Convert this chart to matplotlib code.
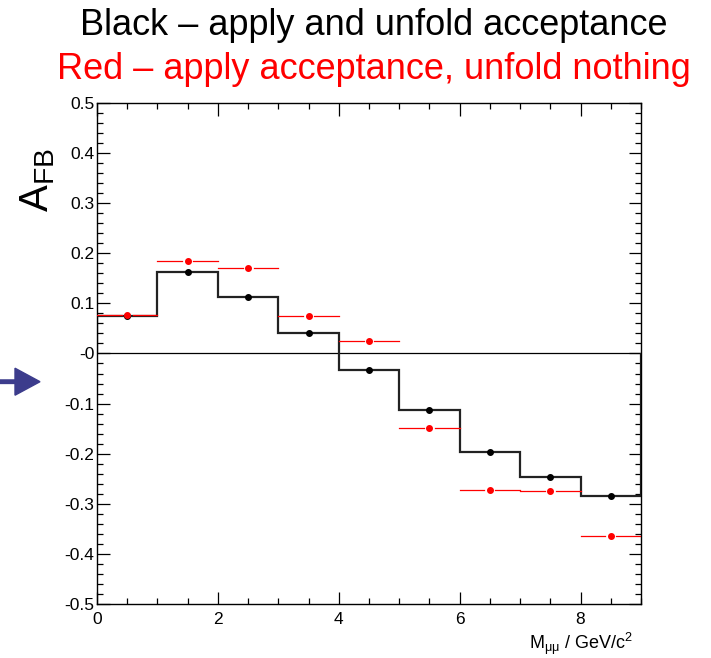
import numpy as np
import matplotlib
matplotlib.use('Agg')
import matplotlib.pyplot as plt
from matplotlib.ticker import MultipleLocator, FixedLocator

plt.rcParams['font.family'] = ['Liberation Sans', 'DejaVu Sans']
plt.rcParams['mathtext.fontset'] = 'custom'
plt.rcParams['mathtext.rm'] = 'Liberation Sans'
plt.rcParams['mathtext.it'] = 'Liberation Sans:italic'

# bin edges in M_mumu (GeV/c^2)
edges = np.arange(0, 10, 1.0)
centers = 0.5 * (edges[:-1] + edges[1:])

# A_FB, black: apply and unfold acceptance
afb_unfold = [0.075, 0.162, 0.112, 0.040, -0.032, -0.112, -0.196, -0.247, -0.285]
# A_FB, red: apply acceptance, unfold nothing
afb_nounfold = [0.077, 0.184, 0.170, 0.074, 0.024, -0.149, -0.272, -0.275, -0.364]

ytick_vals = [0.5, 0.4, 0.3, 0.2, 0.1, 0.0, -0.1, -0.2, -0.3, -0.4, -0.5]
ytick_labels = ['0.5', '0.4', '0.3', '0.2', '0.1', '-0', '-0.1', '-0.2', '-0.3', '-0.4', '-0.5']

fig = plt.figure(figsize=(7.11, 6.58), dpi=100)
ax = fig.add_axes([0.1364, 0.0821, 0.7651, 0.7614])

ax.set_xlim(0, 9)
ax.set_ylim(-0.5, 0.5)

# zero line
ax.axhline(0, color='black', linewidth=0.9, zorder=1)

# black histogram
ax.stairs(afb_unfold, edges, color='#222222', linewidth=1.6, zorder=2)
ax.plot(centers, afb_unfold, 'o', color='black', markersize=4, zorder=4)

# red points with horizontal bars broken around marker
gap = 0.09
for lo, hi, c, v in zip(edges[:-1], edges[1:], centers, afb_nounfold):
    ax.plot([lo, c - gap], [v, v], color='red', linewidth=0.9, zorder=3)
    ax.plot([c + gap, hi], [v, v], color='red', linewidth=0.9, zorder=3)
ax.plot(centers, afb_nounfold, 'o', color='red', markersize=4, zorder=5)

# ticks
ax.xaxis.set_major_locator(MultipleLocator(2))
ax.xaxis.set_minor_locator(MultipleLocator(0.5))
ax.yaxis.set_major_locator(FixedLocator(ytick_vals))
ax.yaxis.set_minor_locator(MultipleLocator(0.02))
ax.set_yticklabels(ytick_labels)
ax.tick_params(which='both', direction='in', top=True, right=True, labelsize=12.5)
ax.tick_params(which='major', length=9, width=0.9)
ax.tick_params(which='minor', length=4.5, width=0.9)
ax.tick_params(axis='y', pad=2)
ax.tick_params(axis='x', pad=6)
for s in ax.spines.values():
    s.set_linewidth(1.0)

fig.text(581 / 711, 1 - 649 / 658, r'M$_{\mathrm{μμ}}$ / GeV/c$^{2}$', fontsize=13,
         ha='center', va='baseline')

fig.text(0.053, 0.726, r'A$_{\mathrm{FB}}$', rotation=90, fontsize=29,
         ha='center', va='center')

fig.text(0.5253, 1 - 35 / 658, 'Black \u2013 apply and unfold acceptance', fontsize=26,
         ha='center', va='baseline', color='black')
fig.text(0.526, 1 - 79 / 658, 'Red \u2013 apply acceptance, unfold nothing', fontsize=26,
         ha='center', va='baseline', color='red')

# arrow on the left
fig.patches.append(matplotlib.patches.FancyArrow(
    0.0, 1 - 381.7 / 658, 40 / 711, 0, width=3.5 / 658, head_width=27 / 658,
    head_length=25 / 711, length_includes_head=True, color='#3c3c8c',
    transform=fig.transFigure, figure=fig))

plt.savefig('out.png', dpi=100)
